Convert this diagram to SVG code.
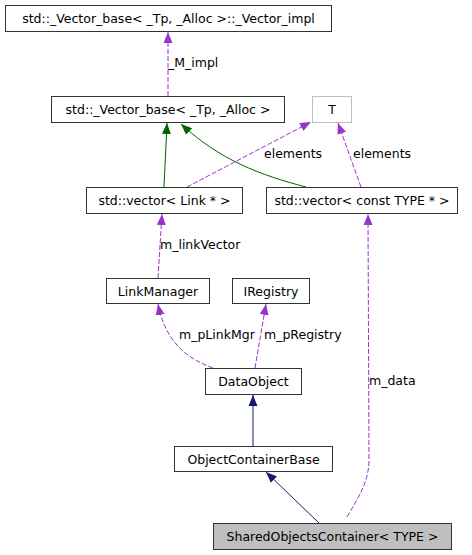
<svg xmlns="http://www.w3.org/2000/svg" width="472" height="555" viewBox="0 0 472 555">
<style>
.n{fill:#fff;stroke:#333;stroke-width:1}
.t{font-family:"DejaVu Sans",sans-serif;font-size:12.5px;fill:#000;text-anchor:middle}
.l{font-family:"DejaVu Sans",sans-serif;font-size:12.5px;fill:#000}
.p{fill:none;stroke:#9a32cd;stroke-width:1;stroke-dasharray:5,2}
.g{fill:none;stroke:#006400;stroke-width:1}
.b{fill:none;stroke:#191970;stroke-width:1}
</style>
<defs>
<marker id="ap" markerWidth="12" markerHeight="12" refX="11" refY="6" orient="auto" markerUnits="userSpaceOnUse"><path d="M0,1.5 L11,6 L0,10.5 Z" fill="#9a32cd"/></marker>
<marker id="ag" markerWidth="12" markerHeight="12" refX="11" refY="6" orient="auto" markerUnits="userSpaceOnUse"><path d="M0,1.5 L11,6 L0,10.5 Z" fill="#006400"/></marker>
<marker id="ab" markerWidth="12" markerHeight="12" refX="11" refY="6" orient="auto" markerUnits="userSpaceOnUse"><path d="M0,1.5 L11,6 L0,10.5 Z" fill="#191970"/></marker>
</defs>
<rect width="472" height="555" fill="#fff"/>
<g id="connectors">
<path class="p" d="M168,96 L168,32" marker-end="url(#ap)"/>
<text class="l" x="168" y="67">_M_impl</text>
<path class="g" d="M164,187 L167,123" marker-end="url(#ag)"/>
<path class="g" d="M306,187 C260,175 220,160 181,124" marker-end="url(#ag)"/>
<path class="p" d="M187,187 L311,122" marker-end="url(#ap)"/>
<text class="l" x="264" y="158">elements</text>
<path class="p" d="M361,187 L338,123" marker-end="url(#ap)"/>
<text class="l" x="353" y="158">elements</text>
<path class="p" d="M158,278 L162,214" marker-end="url(#ap)"/>
<text class="l" x="160" y="249">m_linkVector</text>
<path class="p" d="M213,368 C185,358 165,340 158,304" marker-end="url(#ap)"/>
<text class="l" x="179" y="339">m_pLinkMgr</text>
<path class="p" d="M255,368 L266,304" marker-end="url(#ap)"/>
<text class="l" x="264" y="339">m_pRegistry</text>
<path class="p" d="M347,517 C360,495 369,480 369,460 L368,214" marker-end="url(#ap)"/>
<text class="l" x="369" y="385">m_data</text>
<path class="b" d="M253,446 L253,395" marker-end="url(#ab)"/>
<path class="b" d="M319,523 L266,472" marker-end="url(#ab)"/>
</g>
<g id="n_impl"><rect class="n" x="5.5" y="5.5" width="326" height="26"/><text class="t" x="168.5" y="23">std::_Vector_base&lt; _Tp, _Alloc &gt;::_Vector_impl</text></g>
<g id="n_base"><rect class="n" x="51.5" y="96.5" width="233" height="26"/><text class="t" x="168" y="114">std::_Vector_base&lt; _Tp, _Alloc &gt;</text></g>
<g id="n_T"><rect x="312.5" y="96.5" width="39" height="26" fill="#fff" stroke="#bfbfbf"/><text class="t" x="332" y="114">T</text></g>
<g id="n_vlink"><rect class="n" x="86.5" y="187.5" width="156" height="26"/><text class="t" x="164.5" y="205">std::vector&lt; Link * &gt;</text></g>
<g id="n_vconst"><rect class="n" x="266.5" y="187.5" width="191" height="26"/><text class="t" x="362" y="205">std::vector&lt; const TYPE * &gt;</text></g>
<g id="n_linkmgr"><rect class="n" x="106.5" y="278.5" width="103" height="25"/><text class="t" x="158" y="295.5">LinkManager</text></g>
<g id="n_ireg"><rect class="n" x="232.5" y="278.5" width="77" height="25"/><text class="t" x="271" y="295.5">IRegistry</text></g>
<g id="n_dataobj"><rect class="n" x="205.5" y="368.5" width="96" height="26"/><text class="t" x="253.5" y="386">DataObject</text></g>
<g id="n_ocb"><rect class="n" x="174.5" y="446.5" width="158" height="25"/><text class="t" x="253.5" y="463.5">ObjectContainerBase</text></g>
<g id="n_shared"><rect x="213.5" y="523.5" width="238" height="26" fill="#bfbfbf" stroke="#333"/><text class="t" x="332.5" y="541">SharedObjectsContainer&lt; TYPE &gt;</text></g>
</svg>
